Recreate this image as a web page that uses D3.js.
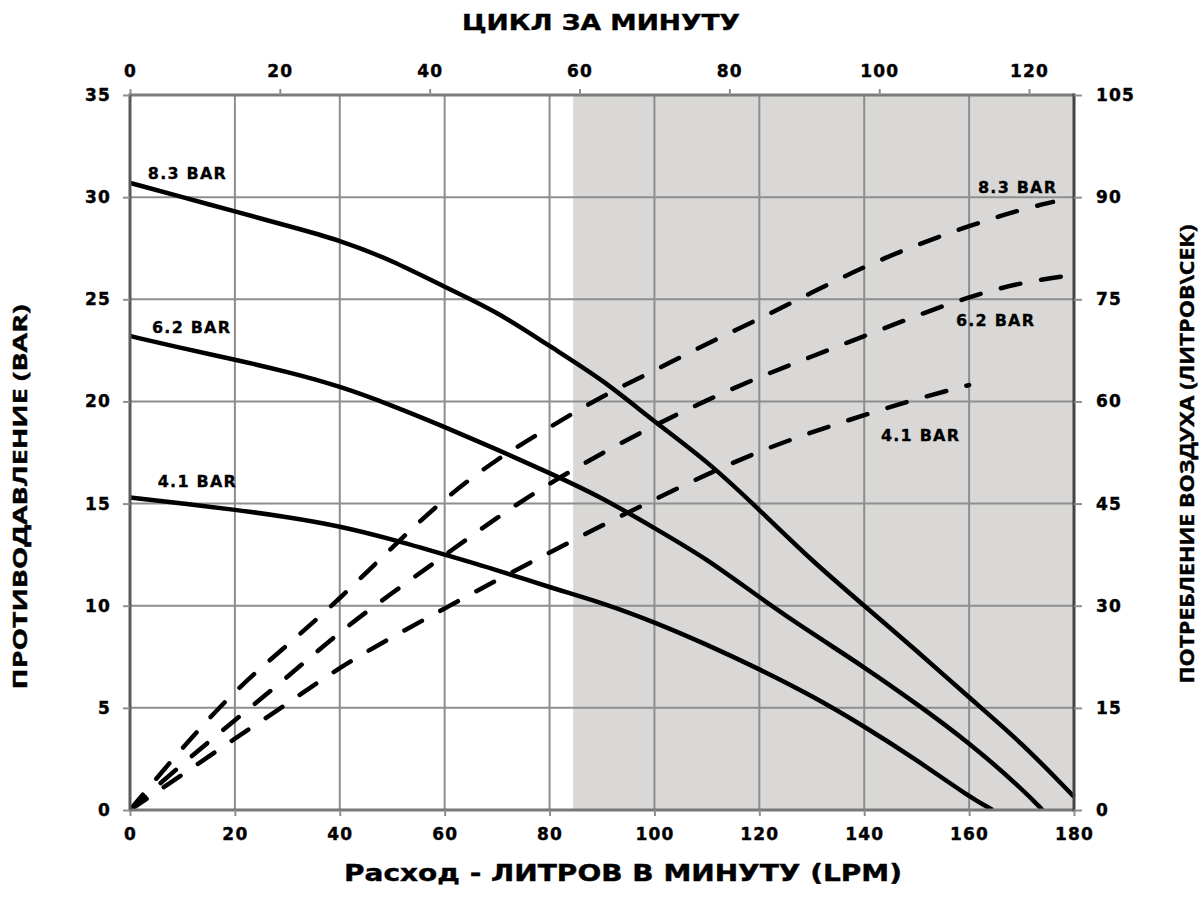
<!DOCTYPE html>
<html><head><meta charset="utf-8">
<script src="https://cdn.jsdelivr.net/npm/d3@7"></script>
<style>body{margin:0;background:#fff}</style></head>
<body>
<svg id="c" width="1200" height="901"></svg>
<script>
// ---- data ----
const flowTicks = [0,20,40,60,80,100,120,140,160,180];
const pressureTicks = [0,5,10,15,20,25,30,35];
const airTicks = [0,15,30,45,60,75,90,105];
const cycleTicks = [0,20,40,60,80,100,120];
const shadeStart = 84.5;

const pressure83 = [[0,30.7],[10,30.0],[20,29.3],[30,28.6],[40,27.9],[50,26.9],[60,25.6],[70,24.4],[80,22.7],[90,21.1],[100,19.0],[110,17.1],[120,14.7],[130,12.2],[140,10.0],[150,7.8],[160,5.5],[170,3.3],[180,0.65]];
const pressure62 = [[0,23.2],[10,22.6],[20,22.05],[30,21.45],[40,20.75],[50,19.8],[60,18.75],[70,17.65],[80,16.5],[90,15.3],[100,13.8],[110,12.3],[120,10.4],[130,8.65],[140,7.0],[150,5.2],[160,3.3],[170,1.06],[174,0]];
const pressure41 = [[0,15.3],[10,15.0],[20,14.7],[30,14.35],[40,13.9],[50,13.25],[60,12.5],[70,11.75],[80,10.9],[90,10.15],[100,9.2],[110,8.1],[120,6.9],[130,5.6],[140,4.1],[150,2.45],[160,0.65],[164.5,0]];

const air83 = [[0,0],[10,9.2],[20,17.6],[30,24.2],[40,31],[50,38.6],[60,45.8],[70,51.6],[80,56.2],[90,60.8],[100,64.5],[110,68.5],[120,72.1],[130,76],[140,79.8],[150,83],[160,85.8],[170,88.2],[176,89.3]];
const air62 = [[0,0],[10,6.8],[20,13.2],[30,19.5],[40,26.2],[50,31.9],[60,37.4],[70,43],[80,48],[90,52.4],[100,56.5],[110,60.2],[120,63.6],[130,66.6],[140,69.6],[150,72.6],[160,75.4],[170,77.5],[180,78.6]];
const air41 = [[0,0],[10,5.2],[20,10.5],[30,15.6],[40,21],[50,25.4],[60,29.6],[70,33.8],[80,37.8],[90,41.8],[100,45.6],[110,49.3],[120,52.7],[130,55.5],[140,58],[150,60.4],[160,62.4]];

const seriesNames = ["8.3 BAR","6.2 BAR","4.1 BAR"];

// ---- scales ----
const L=130, R=1074, T=95, B=810;
const x = d3.scaleLinear().domain([0,180]).range([L,R]);
const xTop = d3.scaleLinear().domain([0,126]).range([L,R]);
const y = d3.scaleLinear().domain([0,35]).range([B,T]);
const y2 = d3.scaleLinear().domain([0,105]).range([B,T]);

const svg = d3.select("#c");
const FONT = "'DejaVu Sans', Verdana, sans-serif";
const NARROW = "'Liberation Sans Narrow','Open Sans', sans-serif";

// shading
svg.append("rect").attr("x",x(shadeStart)).attr("y",T).attr("width",x(180)-x(shadeStart)).attr("height",B-T).attr("fill","#d9d8d7");

// gridlines
const grid = svg.append("g").attr("stroke","#8e8e8e").attr("stroke-width",2);
flowTicks.filter(d=>d>0&&d<180).forEach(d=>grid.append("line").attr("x1",x(d)).attr("x2",x(d)).attr("y1",T).attr("y2",B));
pressureTicks.filter(d=>d>0&&d<35).forEach(d=>grid.append("line").attr("x1",L).attr("x2",R).attr("y1",y(d)).attr("y2",y(d)));

// curves
svg.append("clipPath").attr("id","pa").append("rect").attr("x",L).attr("y",T-5).attr("width",R-L+2).attr("height",B-T+5);
const g = svg.append("g").attr("clip-path","url(#pa)");
const lineP = d3.line().x(d=>x(d[0])).y(d=>y(d[1])).curve(d3.curveBasis);
const lineA = d3.line().x(d=>x(d[0])).y(d=>y2(d[1])).curve(d3.curveBasis);
[pressure83,pressure62,pressure41].forEach(s=>g.append("path").attr("d",lineP(s)).attr("fill","none").attr("stroke","#000").attr("stroke-width",4.5));
[air83,air62,air41].forEach(s=>g.append("path").attr("d",lineA(s)).attr("fill","none").attr("stroke","#000").attr("stroke-width",4.5).attr("stroke-dasharray","20,21").attr("stroke-linecap","round"));

// borders
svg.append("line").attr("x1",L).attr("x2",R).attr("y1",T).attr("y2",T).attr("stroke","#7c7c7c").attr("stroke-width",3);
svg.append("line").attr("x1",L).attr("x2",R+1).attr("y1",B).attr("y2",B).attr("stroke","#787878").attr("stroke-width",3);
svg.append("line").attr("x1",L).attr("x2",L).attr("y1",T-1.5).attr("y2",B+1.5).attr("stroke","#5a5a5a").attr("stroke-width",3);
svg.append("line").attr("x1",R).attr("x2",R).attr("y1",T-1.5).attr("y2",B+1.5).attr("stroke","#444").attr("stroke-width",3);

// axes
function styleAxis(sel){
  sel.select(".domain").remove();
  sel.selectAll(".tick line").attr("stroke","#8e8e8e").attr("stroke-width",2);
  sel.selectAll(".tick text").attr("fill","#000").attr("stroke","#000").attr("stroke-width",0.4)
    .style("font-family",FONT).style("font-weight","bold").style("font-size","17px").style("letter-spacing","1.2px");
}
svg.append("g").attr("transform",`translate(0,${B})`).call(d3.axisBottom(x).tickValues(flowTicks).tickSize(6).tickPadding(12)).call(styleAxis);
svg.append("g").attr("transform",`translate(${L},0)`).call(d3.axisLeft(y).tickValues(pressureTicks).tickSize(7).tickPadding(12)).call(styleAxis);
svg.append("g").attr("transform",`translate(${R},0)`).call(d3.axisRight(y2).tickValues(airTicks).tickSize(8).tickPadding(14)).call(styleAxis);
svg.append("g").attr("transform",`translate(0,${T})`).call(d3.axisTop(xTop).tickValues(cycleTicks).tickSize(6).tickPadding(12)).call(styleAxis);

// curve labels
const labStyle = s=>s.attr("fill","#000").attr("stroke","#000").attr("stroke-width",0.3).style("font-family",FONT).style("font-weight","bold").style("font-size","16px").style("letter-spacing","1.2px");
const leftPos = [[3.4,30.9],[4.2,23.35],[5.3,15.8]];
const rightPos = [[161.7,30.2],[157.5,23.7],[143.2,18.06]];
seriesNames.forEach((n,i)=>{
  svg.append("text").attr("x",x(leftPos[i][0])).attr("y",y(leftPos[i][1])).text(n).call(labStyle);
  svg.append("text").attr("x",x(rightPos[i][0])).attr("y",y(rightPos[i][1])).text(n).call(labStyle);
});

// titles
const titleStyle = s=>s.attr("fill","#000").attr("stroke","#000").attr("stroke-width",0.4).style("font-weight","bold");
svg.append("text").attr("x",601).attr("y",30).attr("text-anchor","middle").text("ЦИКЛ ЗА МИНУТУ")
  .attr("textLength",278).attr("lengthAdjust","spacingAndGlyphs")
  .style("font-family",FONT).style("font-size","21px").call(titleStyle);
svg.append("text").attr("x",623).attr("y",881).attr("text-anchor","middle").text("Расход - ЛИТРОВ В МИНУТУ (LPM)")
  .attr("textLength",558).attr("lengthAdjust","spacingAndGlyphs")
  .style("font-family",FONT).style("font-size","23px").call(titleStyle);
svg.append("text").attr("transform","translate(27,497) rotate(-90)").attr("text-anchor","middle").text("ПРОТИВОДАВЛЕНИЕ (BAR)")
  .attr("textLength",385).attr("lengthAdjust","spacingAndGlyphs")
  .style("font-family",NARROW).style("font-size","19px").call(titleStyle);
svg.append("text").attr("transform","translate(1194,454) rotate(-90)").attr("text-anchor","middle").text("ПОТРЕБЛЕНИЕ ВОЗДУХА (ЛИТРОВ\\СЕК)")
  .attr("textLength",459).attr("lengthAdjust","spacingAndGlyphs")
  .style("font-family",NARROW).style("font-size","19px").call(titleStyle);
</script>
</body></html>
